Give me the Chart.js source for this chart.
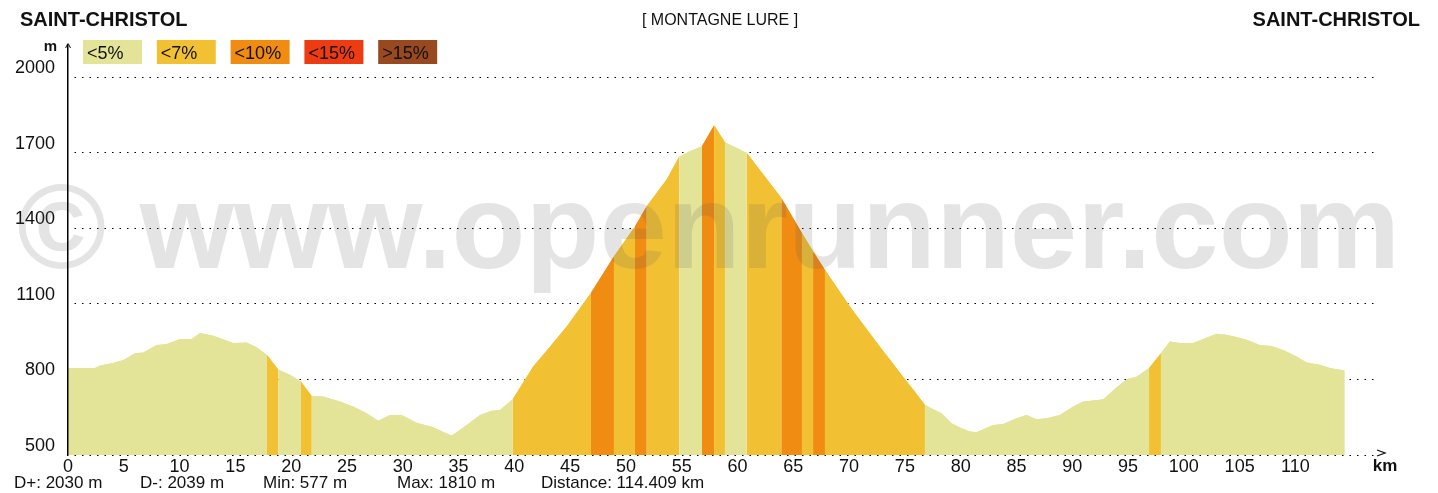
<!DOCTYPE html>
<html>
<head>
<meta charset="utf-8">
<title>Profil Montagne de Lure</title>
<script src="https://cdn.jsdelivr.net/npm/chart.js@4.4.0/dist/chart.umd.min.js"></script>
<style>
  html, body { margin: 0; padding: 0; background: #fff; }
  canvas { display: block; }
</style>
</head>
<body>
<canvas id="profile" width="1438" height="493"></canvas>
<script>
/* elevation profile - Saint-Christol loop over Montagne de Lure */

// distance along the route (km) and elevation (m)
const distKm = [
  0.00, 2.42, 2.87, 3.92, 4.96, 6.00, 6.75, 7.95, 8.84, 10.04, 11.08, 11.83, 13.02, 14.81,
  16.01, 16.91, 17.83, 18.86, 19.89, 20.88, 21.84, 22.88, 24.37, 25.56, 26.77, 27.80, 28.85,
  29.90, 31.25, 32.73, 33.78, 34.40, 35.73, 36.92, 37.97, 38.71, 39.85, 41.69, 43.19, 44.69,
  46.86, 48.92, 50.81, 51.86, 53.65, 54.78, 55.73, 56.81, 57.91, 58.87, 60.82, 63.93, 65.77,
  66.78, 67.83, 70.07, 72.76, 73.95, 74.85, 75.74, 76.79, 77.54, 78.29, 79.18, 80.08, 80.82,
  81.42, 82.91, 83.81, 85.01, 85.90, 86.80, 87.69, 88.89, 90.08, 90.98, 91.87, 92.77, 93.97,
  94.87, 95.76, 96.89, 97.94, 98.75, 99.64, 100.83, 101.73, 102.93, 103.82, 104.72, 105.62,
  106.81, 107.86, 108.90, 110.10, 111.00, 112.19, 113.08, 114.41
];
const elevation = [
  845, 845, 855, 864, 877, 904, 907, 937, 940, 960, 960, 984, 973, 944,
  946, 928, 897, 838, 818, 791, 734, 732, 712, 692, 666, 636, 659,
  659, 628, 610, 588, 577, 619, 659, 676, 679, 721, 851, 930, 1010,
  1143, 1288, 1407, 1487, 1593, 1685, 1705, 1725, 1809, 1741, 1699, 1520, 1381,
  1308, 1235, 1089, 930, 862, 810, 760, 699, 682, 666, 626, 606, 593,
  590, 619, 623, 646, 659, 642, 646, 659, 692, 712, 716, 721, 769,
  801, 811, 845, 904, 950, 944, 944, 960, 981, 977, 968, 957,
  937, 933, 917, 891, 867, 858, 845, 835
];

// gradient bands (km from / to, class index into gradeLabels); everything else is class 0
const bandFrom  = [17.83, 20.88, 39.85, 46.86, 48.92, 50.81, 51.86, 56.81, 57.91, 60.82, 63.93, 65.77, 66.78, 67.83, 96.89];
const bandTo    = [18.86, 21.84, 46.86, 48.92, 50.81, 51.86, 54.78, 57.91, 58.87, 63.93, 65.77, 66.78, 67.83, 76.79, 97.94];
const bandGrade = [1, 1, 1, 2, 1, 2, 1, 2, 1, 1, 2, 1, 2, 1, 1];

const gradeLabels = ['<5%', '<7%', '<10%', '<15%', '>15%'];
const gradeColors = ['#e4e499', '#f2c133', '#f08c12', '#ee3b12', '#99491f'];

const xTicks = [0, 5, 10, 15, 20, 25, 30, 35, 40, 45, 50, 55, 60, 65, 70, 75, 80, 85, 90, 95, 100, 105, 110];
const yTicks = [500, 800, 1100, 1400, 1700, 2000];

const startName = 'SAINT-CHRISTOL';
const endName = 'SAINT-CHRISTOL';
const climbName = '[ MONTAGNE LURE ]';
const stats = ['D+: 2030 m', 'D-: 2039 m', 'Min: 577 m', 'Max: 1810 m', 'Distance: 114.409 km'];

const FONT = '"Liberation Sans", Arial, sans-serif';

function gradeAt(k) {
  for (let i = 0; i < bandFrom.length; i++) {
    if (k >= bandFrom[i] && k < bandTo[i]) return bandGrade[i];
  }
  return 0;
}

// texts, legend chips, axis arrows and the watermark
const decorations = {
  id: 'decorations',
  afterDatasetsDraw(chart) {
    const ctx = chart.ctx;
    ctx.save();
    const txt = '\u00a9 www.openrunner.com';
    ctx.font = 'bold 100px ' + FONT;
    const size = 100 * 1383 / ctx.measureText(txt).width;
    ctx.font = 'bold ' + size.toFixed(1) + 'px ' + FONT;
    ctx.fillStyle = 'rgba(90,90,90,0.16)';
    ctx.textBaseline = 'alphabetic';
    ctx.fillText(txt, 17, 268);
    ctx.restore();
  },
  afterDraw(chart) {
    const ctx = chart.ctx;
    const {left, right, top, bottom} = chart.chartArea;
    ctx.save();
    ctx.fillStyle = '#111';
    ctx.textBaseline = 'alphabetic';

    // header
    ctx.font = 'bold 20px ' + FONT;
    ctx.textAlign = 'left';
    ctx.fillText(startName, 20, 26);
    ctx.textAlign = 'right';
    ctx.fillText(endName, 1420, 26);
    ctx.font = '16px ' + FONT;
    ctx.textAlign = 'center';
    ctx.fillText(climbName, 720, 25);

    // legend chips
    ctx.textAlign = 'left';
    ctx.font = '18px ' + FONT;
    gradeLabels.forEach((g, i) => {
      const x = 83 + i * 73.8;
      ctx.fillStyle = gradeColors[i];
      ctx.fillRect(x, 40, 59, 24);
      ctx.fillStyle = '#111';
      ctx.fillText(g, x + 4, 59);
    });

    // axis ends
    ctx.font = 'bold 15px ' + FONT;
    ctx.textAlign = 'right';
    ctx.fillText('m', 57, 51);
    ctx.textAlign = 'center';
    ctx.font = '13px ' + FONT;
    ctx.fillText('^', left, 52);
    ctx.strokeStyle = '#111';
    ctx.lineWidth = 1.3;
    ctx.beginPath();
    ctx.moveTo(right - 1, bottom - 5);
    ctx.lineTo(right + 7, bottom - 2);
    ctx.lineTo(right - 1, bottom + 1);
    ctx.stroke();
    ctx.font = 'bold 17px ' + FONT;
    ctx.textAlign = 'center';
    ctx.fillText('km', right + 7, 471);

    // stats
    ctx.font = '17px ' + FONT;
    ctx.textAlign = 'left';
    const sx = [14, 140, 263, 397, 541];
    stats.forEach((s, i) => ctx.fillText(s, sx[i], 488));
    ctx.restore();
  }
};

// same profile twice so the antialiased seams between coloured segments close up
const profileLayer = () => ({
  data: distKm.map((k, i) => ({x: k, y: elevation[i]})),
  borderWidth: 0,
  borderColor: 'rgba(0,0,0,0)',
  pointRadius: 0,
  tension: 0,
  fill: 'start',
  backgroundColor: gradeColors[0],
  segment: {
    backgroundColor: c => gradeColors[gradeAt((c.p0.parsed.x + c.p1.parsed.x) / 2)]
  }
});

const ctx = document.getElementById('profile').getContext('2d');
new Chart(ctx, {
  type: 'line',
  data: { datasets: [profileLayer(), profileLayer()] },
  options: {
    responsive: false,
    animation: false,
    layout: { padding: { left: 0, right: 60, top: 45, bottom: 0 } },
    plugins: { legend: { display: false }, tooltip: { enabled: false } },
    scales: {
      x: {
        type: 'linear',
        min: 0,
        max: 117.4,
        afterBuildTicks: s => { s.ticks = xTicks.map(v => ({value: v})); },
        afterFit: s => { s.height = 38; },
        grid: { display: false, drawTicks: false },
        border: { display: false },
        ticks: {
          autoSkip: false,
          maxRotation: 0,
          padding: 1,
          color: '#111',
          callback: v => String(v),
          font: { family: FONT, size: 18 }
        }
      },
      y: {
        min: 500,
        max: 2127,
        afterBuildTicks: s => { s.ticks = yTicks.map(v => ({value: v})); },
        afterFit: s => { s.width = 68; },
        grid: { color: '#000', lineWidth: 1, drawTicks: false },
        border: { display: true, color: '#000', width: 1.5, z: 1, dash: [1.5, 6], dashOffset: -6 },
        ticks: {
          align: 'end',
          padding: 13,
          color: '#111',
          callback: v => String(v),
          font: { family: FONT, size: 18 }
        }
      }
    }
  },
  plugins: [decorations]
});
</script>
</body>
</html>
